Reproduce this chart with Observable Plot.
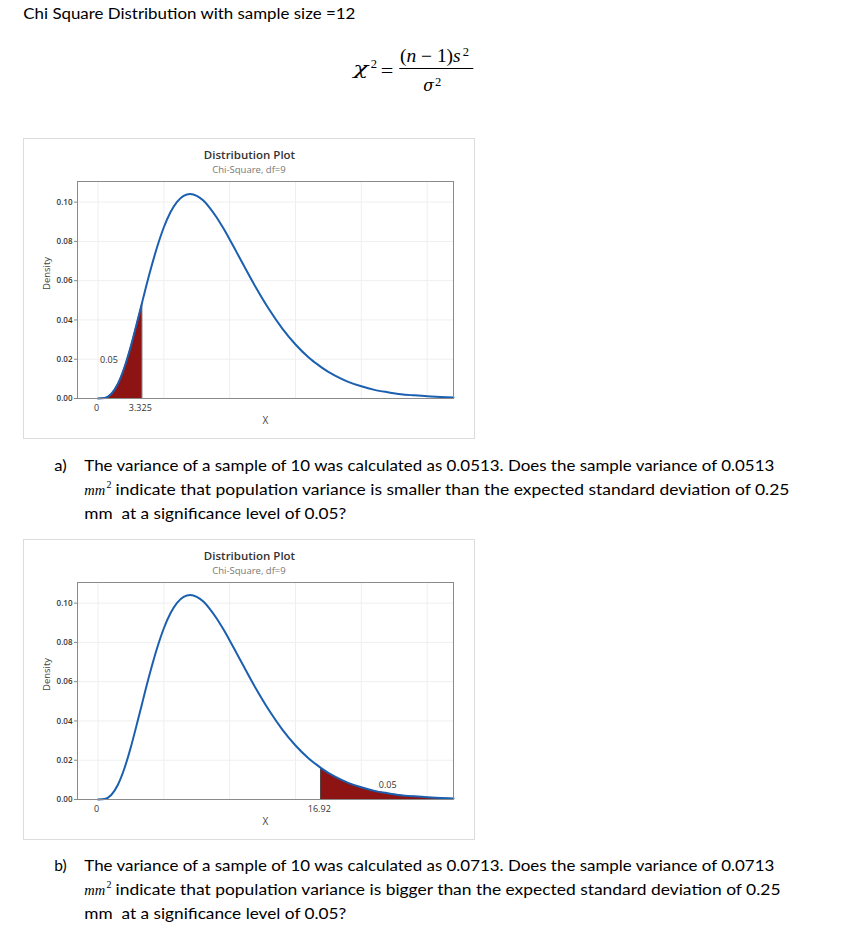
<!DOCTYPE html>
<html>
<head>
<meta charset="utf-8">
<script src="https://cdn.jsdelivr.net/npm/d3@7"></script>
<script src="https://cdn.jsdelivr.net/npm/@observablehq/plot@0.6"></script>
<style>
html, body { margin: 0; padding: 0; background: #fff; }
#page { position: relative; width: 861px; height: 934px; overflow: hidden; background: #fff; }
.box { position: absolute; left: 23px; width: 450px; height: 299px; border: 1px solid #dcdcdc; }
.box svg { display: block; }
#overlay { position: absolute; left: 0; top: 0; }
</style>
</head>
<body>
<div id="page">
  <svg id="overlay" width="861" height="934"></svg>
  <div class="box" id="chart1" style="top:138px"></div>
  <div class="box" id="chart2" style="top:539px"></div>
</div>
<script>
// ---------- data ----------
const chiX = [0, 0.5, 1, 1.5, 2, 2.5, 3, 3.325, 3.5, 4, 4.5, 5, 5.5, 6, 6.5, 7, 7.5, 8, 8.5, 9, 9.5, 10, 10.5, 11, 12, 13, 14, 15, 16, 16.92, 17, 18, 19, 20, 21, 22, 23, 24, 25, 26, 27];
const chiDensity = [0, 0.00026, 0.0023, 0.0074, 0.0158, 0.0269, 0.0397, 0.0483, 0.0530, 0.0658, 0.0774, 0.0872, 0.0948, 0.1001, 0.1032, 0.1041, 0.1032, 0.1008, 0.0970, 0.0923, 0.0869, 0.0810, 0.0748, 0.0686, 0.0564, 0.0453, 0.0356, 0.0275, 0.0209, 0.0161, 0.0157, 0.0116, 0.0085, 0.0062, 0.0044, 0.0032, 0.0022, 0.0016, 0.0011, 0.0008, 0.0005];
const yTicks = [0, 0.02, 0.04, 0.06, 0.08, 0.10];
const gridXValues = [0, 5, 10, 15, 20, 25];
const criticalLower = 3.325;
const criticalUpper = 16.92;
const tailProb = "0.05";
const annLower = {x: 0.83, y: 0.0195, label: tailProb};
const annUpper = {x: 22.0, y: 0.0073, label: tailProb};
const chartTitle = "Distribution Plot";
const chartSubtitle = "Chi-Square, df=9";

// ---------- charts ----------
const xDomain = [-1.56, 27];
const yDomain = [0, 0.1105];

function distChart(critical, side, ann) {
  const pts = chiX.map((x, i) => ({x, y: chiDensity[i]}));
  const tail = pts.filter(d => side === "left" ? d.x <= critical : d.x >= critical);
  const edge = pts.filter(d => d.x === critical);
  const xt = [0, critical];
  return Plot.plot({
    width: 450, height: 299,
    marginTop: 42, marginRight: 21, marginBottom: 40, marginLeft: 53,
    style: {fontFamily: "'Open Sans', sans-serif", background: "#fff", color: "#333"},
    x: {domain: xDomain, axis: null},
    y: {domain: yDomain, axis: null},
    marks: [
      Plot.gridX(gridXValues, {stroke: "#efefef", strokeOpacity: 1}),
      Plot.gridY(yTicks.slice(1), {stroke: "#efefef", strokeOpacity: 1}),
      Plot.areaY(tail, {x: "x", y: "y", fill: "#8e1414", curve: "monotone-x"}),
      Plot.ruleX(edge, {x: "x", y1: 0, y2: "y", stroke: "#3a3a3a", strokeWidth: 1}),
      Plot.line(pts, {x: "x", y: "y", stroke: "#1b5fb0", strokeWidth: 2, curve: "monotone-x"}),
      Plot.frame({stroke: "#8a8a8a"}),
      Plot.axisY(yTicks, {tickFormat: d3.format(".2f"), tickSize: 3, tickPadding: 2, fontSize: 8, fontWeight: 600, stroke: "#888", fill: "#333", label: null}),
      Plot.text(xt, {x: d => d, frameAnchor: "bottom", dy: 12, dx: -1.5, text: d => String(d), fontSize: 9, fill: "#333"}),
      Plot.text(["Density"], {frameAnchor: "left", dx: -31, rotate: -90, fontSize: 9.5, fill: "#444"}),
      Plot.text(["X"], {frameAnchor: "bottom", dy: 25, fontSize: 10, fill: "#444"}),
      Plot.text([ann], {x: "x", y: "y", text: "label", fontSize: 9, fill: "#333"}),
      Plot.text([chartTitle], {frameAnchor: "top", dx: -16, dy: -22.4, lineAnchor: "bottom", fontSize: 11.5, fontWeight: 600, fill: "#333"}),
      Plot.text([chartSubtitle], {frameAnchor: "top", dx: -16.5, dy: -9, lineAnchor: "bottom", fontSize: 9.5, fill: "#777"})
    ]
  });
}

document.getElementById("chart1").append(distChart(criticalLower, "left", annLower));
document.getElementById("chart2").append(distChart(criticalUpper, "right", annUpper));

// ---------- page text (layout) ----------
const ov = d3.select("#overlay");
const bodyFont = "Lato, 'Open Sans', sans-serif";
const mathFont = "'DejaVu Serif', 'Liberation Serif', serif";
const latinMath = "'Liberation Serif', 'DejaVu Serif', serif";

function txt(x, y, s, o = {}) {
  const t = ov.append("text").attr("x", x).attr("y", y)
    .attr("font-family", o.font || bodyFont)
    .attr("font-size", o.size || 15)
    .attr("font-style", o.italic ? "italic" : null)
    .attr("fill", o.fill || "#000")
    .style("white-space", "pre")
    .text(s);
  if (o.w) t.attr("textLength", o.w).attr("lengthAdjust", "spacingAndGlyphs");
  return t;
}

txt(23.3, 19, "Chi Square Distribution with sample size =12", {w: 332, size: 14.5});

// formula
txt(353.3, 74.3, "χ", {font: mathFont, italic: true, size: 17, w: 15});
txt(370.7, 68.3, "2", {font: latinMath, size: 12.5});
txt(380.7, 76.5, "=", {font: latinMath, size: 18, w: 12.6});
ov.append("line").attr("x1", 399.3).attr("x2", 473.3).attr("y1", 68.5).attr("y2", 68.5).attr("stroke", "#000").attr("stroke-width", 1);
{
  const t = ov.append("text").attr("x", 400).attr("y", 61.7).attr("font-family", latinMath).attr("font-size", 18)
    .attr("textLength", 60.7).attr("lengthAdjust", "spacingAndGlyphs").style("white-space", "pre");
  t.append("tspan").text("(");
  t.append("tspan").attr("font-style", "italic").text("n");
  t.append("tspan").text(" − 1)");
  t.append("tspan").attr("font-style", "italic").text("s");
}
txt(462.7, 55.7, "2", {font: latinMath, size: 12.5});
txt(423.3, 91, "σ", {font: mathFont, italic: true, size: 16, w: 10.7});
txt(435, 85.7, "2", {font: latinMath, size: 12.5});

// question paragraphs
function question(dy, letter, line1, line2, w1, w2) {
  txt(54.3, 471 + dy, letter, {w: 12.4});
  txt(84.3, 471 + dy, line1, {w: w1});
  txt(84.3, 495 + dy, "mm", {font: latinMath, italic: true, size: 14.5});
  txt(106.5, 488 + dy, "2", {font: latinMath, size: 10});
  txt(115.5, 495 + dy, line2, {w: w2});
  txt(84.3, 519 + dy, "mm  at a significance level of 0.05?", {w: 262});
}
question(0, "a)",
  "The variance of a sample of 10 was calculated as 0.0513. Does the sample variance of 0.0513",
  "indicate that population variance is smaller than the expected standard deviation of 0.25",
  690, 674);
question(400, "b)",
  "The variance of a sample of 10 was calculated as 0.0713. Does the sample variance of 0.0713",
  "indicate that population variance is bigger than the expected standard deviation of 0.25",
  690, 665);
</script>
</body>
</html>
